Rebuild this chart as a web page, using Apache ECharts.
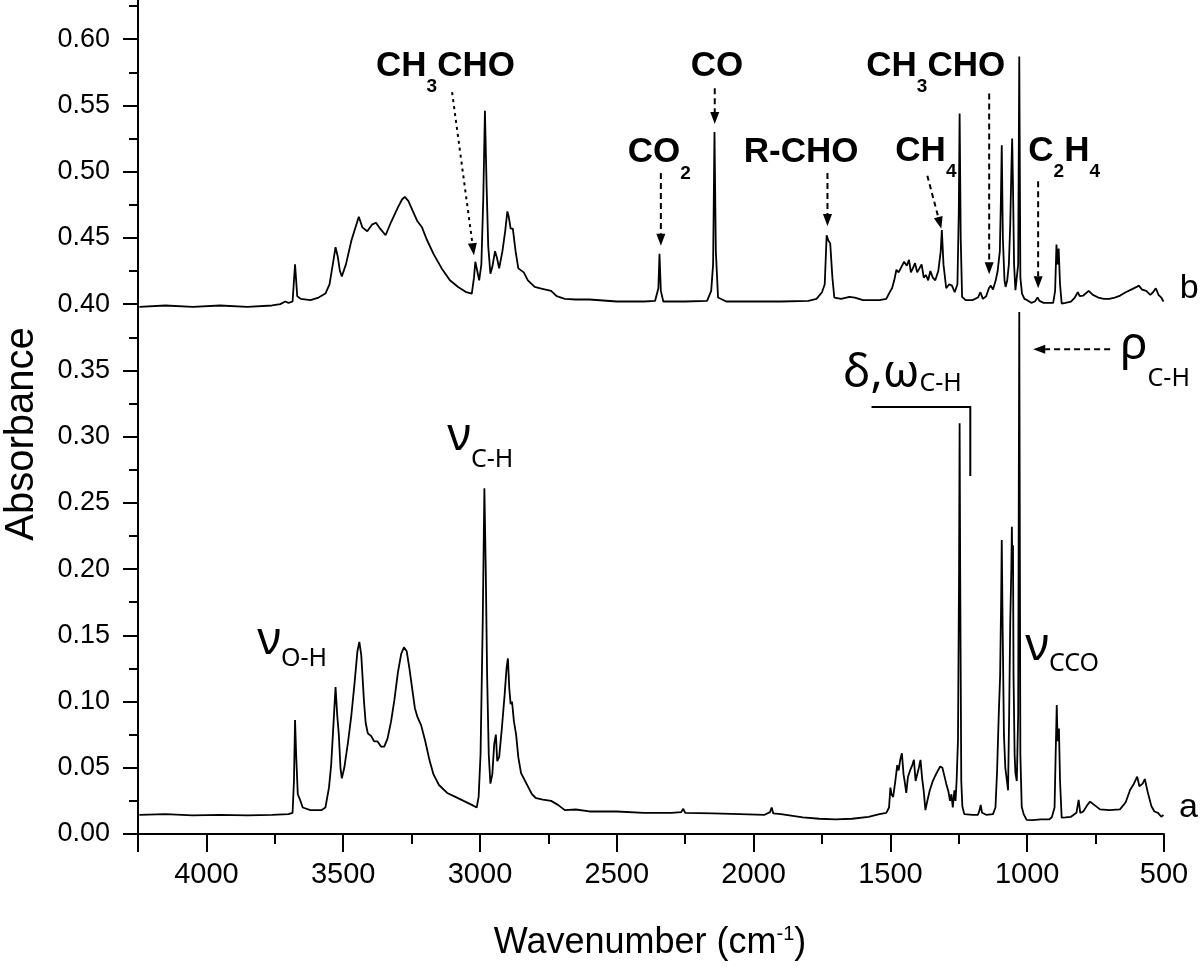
<!DOCTYPE html>
<html lang="en">
<head>
<meta charset="UTF-8">
<title>IR spectra</title>
<script src="https://cdn.jsdelivr.net/npm/echarts@6/dist/echarts.min.js"></script>
<style>
html, body { margin: 0; padding: 0; background: #fff; }
#main { width: 1200px; height: 967px; }
</style>
</head>
<body>
<div id="main"></div>
<script>
// trace b (upper, offset spectrum): wavenumber (cm-1) and absorbance
var wnB = [
  4245, 4150, 4050, 3950, 3850, 3760, 3730, 3712, 3700, 3685,
  3676, 3668, 3655, 3620, 3590, 3565, 3550, 3538, 3528, 3520,
  3512, 3505, 3490, 3470, 3455, 3443, 3430, 3412, 3395, 3380,
  3365, 3345, 3325, 3300, 3285, 3275, 3262, 3245, 3230, 3212,
  3195, 3170, 3140, 3110, 3080, 3050, 3030, 3022, 3017, 3010,
  3003, 2995, 2988, 2982, 2976, 2970, 2962, 2955, 2945, 2938,
  2930, 2918, 2908, 2900, 2895, 2888, 2880, 2870, 2860, 2840,
  2825, 2800, 2780, 2760, 2740, 2720, 2690, 2650, 2600, 2500,
  2400, 2360, 2348, 2344, 2339, 2330, 2250, 2170, 2155, 2148,
  2143, 2138, 2130, 2100, 2000, 1900, 1800, 1770, 1750, 1740,
  1733, 1727, 1720, 1712, 1705, 1680, 1650, 1630, 1600, 1540,
  1515, 1500, 1494, 1486, 1478, 1470, 1460, 1450, 1440, 1432,
  1425, 1418, 1410, 1402, 1395, 1386, 1378, 1370, 1362, 1354,
  1345, 1336, 1325, 1316, 1312, 1306, 1296, 1285, 1275, 1265,
  1255, 1250, 1247, 1243, 1238, 1225, 1200, 1180, 1171, 1162,
  1150, 1140, 1133, 1125, 1115, 1108, 1100, 1096, 1093, 1089,
  1083, 1079, 1073, 1067, 1062, 1058, 1055, 1052, 1048, 1043,
  1038, 1033, 1029, 1025, 1019, 1010, 1000, 985, 972, 962,
  955, 940, 920, 905, 898, 893, 889, 885, 880, 874,
  860, 840, 826, 815, 808, 795, 775, 760, 740, 720,
  700, 680, 660, 640, 620, 600, 592, 580, 565, 550,
  540, 530, 520, 510, 502
];
var absB = [
  0.398, 0.399, 0.398, 0.399, 0.398, 0.399, 0.400, 0.402, 0.401, 0.402,
  0.430, 0.406, 0.404, 0.403, 0.405, 0.408, 0.415, 0.430, 0.443, 0.436,
  0.425, 0.421, 0.430, 0.448, 0.458, 0.466, 0.458, 0.455, 0.460, 0.4615,
  0.457, 0.452, 0.462, 0.473, 0.479, 0.481, 0.478, 0.470, 0.463, 0.458,
  0.449, 0.438, 0.427, 0.418, 0.413, 0.409, 0.408, 0.420, 0.432, 0.425,
  0.418, 0.430, 0.480, 0.546, 0.490, 0.444, 0.423, 0.428, 0.440, 0.435,
  0.427, 0.440, 0.455, 0.470, 0.466, 0.457, 0.457, 0.440, 0.427, 0.424,
  0.418, 0.413, 0.412, 0.411, 0.410, 0.406, 0.404, 0.4035, 0.4035, 0.402,
  0.402, 0.4025, 0.412, 0.438, 0.410, 0.402, 0.402, 0.4025, 0.410, 0.430,
  0.530, 0.440, 0.405, 0.402, 0.402, 0.402, 0.4025, 0.404, 0.409, 0.415,
  0.452, 0.448, 0.446, 0.420, 0.405, 0.404, 0.4055, 0.405, 0.403, 0.403,
  0.404, 0.410, 0.412, 0.418, 0.426, 0.424, 0.428, 0.432, 0.429, 0.4335,
  0.424, 0.427, 0.431, 0.424, 0.4245, 0.430, 0.420, 0.422, 0.418, 0.425,
  0.420, 0.418, 0.425, 0.440, 0.456, 0.430, 0.412, 0.415, 0.414, 0.409,
  0.415, 0.470, 0.544, 0.450, 0.4055, 0.403, 0.403, 0.405, 0.409, 0.404,
  0.406, 0.412, 0.414, 0.411, 0.418, 0.425, 0.440, 0.480, 0.520, 0.450,
  0.418, 0.413, 0.418, 0.430, 0.460, 0.500, 0.525, 0.490, 0.430, 0.4105,
  0.410, 0.430, 0.587, 0.420, 0.408, 0.404, 0.403, 0.401, 0.402, 0.405,
  0.4025, 0.401, 0.401, 0.401, 0.410, 0.445, 0.430, 0.442, 0.415, 0.4005,
  0.401, 0.402, 0.405, 0.409, 0.406, 0.4065, 0.410, 0.407, 0.405, 0.404,
  0.404, 0.405, 0.4065, 0.409, 0.411, 0.413, 0.414, 0.411, 0.410, 0.407,
  0.409, 0.412, 0.407, 0.405, 0.402
];

// trace a (lower spectrum)
var wnA = [
  4245, 4150, 4050, 3950, 3850, 3760, 3700, 3685, 3680, 3676,
  3672, 3666, 3658, 3648, 3620, 3580, 3565, 3552, 3544, 3535,
  3528, 3522, 3516, 3510, 3505, 3496, 3482, 3470, 3458, 3448,
  3441, 3434, 3424, 3418, 3410, 3398, 3387, 3375, 3362, 3350,
  3338, 3325, 3313, 3300, 3288, 3278, 3268, 3258, 3248, 3238,
  3228, 3215, 3200, 3185, 3170, 3150, 3120, 3090, 3060, 3030,
  3012, 3005, 2998, 2990, 2984, 2979, 2974, 2968, 2962, 2955,
  2948, 2942, 2937, 2930, 2920, 2910, 2903, 2898, 2893, 2888,
  2883, 2876, 2868, 2860, 2850, 2835, 2825, 2810, 2795, 2770,
  2740, 2715, 2690, 2650, 2600, 2500, 2400, 2300, 2265, 2257,
  2250, 2150, 2050, 1960, 1940, 1934, 1928, 1900, 1820, 1760,
  1700, 1640, 1580, 1540, 1515, 1505, 1500, 1496, 1490, 1482,
  1475, 1470, 1464, 1458, 1452, 1448, 1442, 1436, 1428, 1420,
  1414, 1408, 1402, 1396, 1390, 1384, 1378, 1372, 1365, 1356,
  1345, 1336, 1326, 1318, 1310, 1304, 1296, 1288, 1282, 1277,
  1272, 1266, 1262, 1258, 1253, 1249, 1247, 1245, 1241, 1237,
  1230, 1200, 1180, 1174, 1170, 1165, 1150, 1125, 1116, 1110,
  1104, 1099, 1095, 1093, 1090, 1085, 1080, 1074, 1070, 1066,
  1062, 1058, 1056, 1054, 1052, 1050, 1046, 1043, 1038, 1033,
  1029, 1025, 1020, 1013, 1002, 980, 950, 920, 910, 900,
  896, 892, 889, 884, 880, 874, 860, 840, 820, 812,
  806, 795, 780, 770, 755, 734, 700, 661, 640, 624,
  610, 598, 590, 578, 570, 560, 546, 535, 522, 510,
  502
];
var absA = [
  0.0145, 0.0150, 0.0140, 0.0145, 0.0140, 0.0145, 0.0150, 0.0160, 0.040, 0.086,
  0.060, 0.030, 0.026, 0.020, 0.018, 0.018, 0.020, 0.035, 0.052, 0.085,
  0.111, 0.090, 0.075, 0.050, 0.042, 0.050, 0.070, 0.090, 0.115, 0.138,
  0.145, 0.135, 0.100, 0.084, 0.076, 0.074, 0.070, 0.070, 0.066, 0.066,
  0.072, 0.085, 0.101, 0.122, 0.136, 0.141, 0.138, 0.125, 0.110, 0.095,
  0.088, 0.082, 0.070, 0.056, 0.045, 0.037, 0.031, 0.028, 0.025, 0.022,
  0.020, 0.028, 0.060, 0.160, 0.261, 0.200, 0.120, 0.060, 0.038, 0.045,
  0.068, 0.075, 0.055, 0.058, 0.080, 0.105, 0.125, 0.1325, 0.110, 0.098,
  0.100, 0.085, 0.075, 0.058, 0.046, 0.040, 0.036, 0.030, 0.027, 0.026,
  0.025, 0.022, 0.018, 0.0185, 0.017, 0.017, 0.016, 0.016, 0.0165, 0.019,
  0.016, 0.0155, 0.015, 0.0145, 0.0165, 0.020, 0.0155, 0.015, 0.0125, 0.0115,
  0.011, 0.0115, 0.013, 0.015, 0.016, 0.020, 0.035, 0.030, 0.028, 0.040,
  0.052, 0.048, 0.056, 0.061, 0.045, 0.040, 0.031, 0.043, 0.048, 0.052,
  0.056, 0.040, 0.045, 0.050, 0.056, 0.042, 0.032, 0.018, 0.025, 0.033,
  0.040, 0.044, 0.048, 0.051, 0.050, 0.045, 0.038, 0.032, 0.025, 0.030,
  0.020, 0.033, 0.025, 0.040, 0.071, 0.200, 0.310, 0.200, 0.040, 0.021,
  0.015, 0.0145, 0.0145, 0.018, 0.022, 0.016, 0.0145, 0.015, 0.020, 0.048,
  0.090, 0.119, 0.180, 0.222, 0.160, 0.075, 0.050, 0.040, 0.033, 0.090,
  0.160, 0.200, 0.232, 0.200, 0.218, 0.120, 0.060, 0.046, 0.040, 0.090,
  0.394, 0.060, 0.0206, 0.015, 0.0106, 0.0105, 0.011, 0.011, 0.0126, 0.020,
  0.060, 0.0974, 0.070, 0.0797, 0.040, 0.0123, 0.0125, 0.013, 0.016, 0.0257,
  0.016, 0.017, 0.022, 0.0244, 0.022, 0.0186, 0.018, 0.0186, 0.024, 0.0332,
  0.038, 0.0433, 0.036, 0.038, 0.0415, 0.032, 0.021, 0.017, 0.016, 0.013,
  0.0143
];

// gas-phase product tags on trace b: text parts ('m' main, 's' subscript),
// text anchor (left, baseline) and dashed arrow, all in data units
var gasTags = [
  { parts: [['CH', 'm'], ['3', 's'], ['CHO', 'm']], at: [3380, 0.5706], from: [3102, 0.560], to: [3022, 0.437], dash: [3, 4] },
  { parts: [['CO', 'm']], at: [2230, 0.5706], from: [2142, 0.563], to: [2142, 0.536], dash: [6, 4] },
  { parts: [['CO', 'm'], ['2', 's']], at: [2460, 0.505], from: [2339, 0.499], to: [2339, 0.444], dash: [6, 4] },
  { parts: [['R-CHO', 'm']], at: [2036, 0.505], from: [1730, 0.499], to: [1730, 0.459], dash: [6, 4] },
  { parts: [['CH', 'm'], ['4', 's']], at: [1482, 0.5064], from: [1365, 0.497], to: [1314, 0.457], dash: [5, 4] },
  { parts: [['CH', 'm'], ['3', 's'], ['CHO', 'm']], at: [1588, 0.5706], from: [1139, 0.559], to: [1139, 0.4226], dash: [6, 4] },
  { parts: [['C', 'm'], ['2', 's'], ['H', 'm'], ['4', 's']], at: [996, 0.5064], from: [960, 0.4928], to: [960, 0.412], dash: [6, 4] }
];

// vibrational mode tags on trace a
var modeTags = [
  { parts: [['ν', 'm'], ['O-H', 's']], at: [3814, 0.1336], drop: 11 },
  { parts: [['ν', 'm'], ['C-H', 's']], at: [3120, 0.2875], drop: 15 },
  { parts: [['δ,ω', 'm'], ['C-H', 's']], at: [1672, 0.3351], drop: 3 },
  { parts: [['ρ', 'm'], ['C-H', 's']], at: [661, 0.3562], drop: 25 },
  { parts: [['ν', 'm'], ['CCO', 's']], at: [1007, 0.129], drop: 10 }
];
var bracketPts = [[1569, 0.3223], [1208, 0.3223], [1208, 0.2702]];
var rhoArrow = { from: [697, 0.366], to: [978, 0.366] };
var traceTags = [['a', [445, 0.0106]], ['b', [442, 0.403]]];

function zip(xs, ys) {
  return xs.map(function (x, i) { return [x, ys[i]]; });
}

var chart = echarts.init(document.getElementById('main'));

var option = {
  animation: false,
  backgroundColor: '#fff',
  grid: { left: 138, right: 36, top: -27, bottom: 133, containLabel: false, outerBoundsMode: 'none' },
  xAxis: [
    {
      type: 'value', min: 500, max: 4250, interval: 500, inverse: true, position: 'bottom',
      axisLine: { show: true, onZero: false, lineStyle: { color: '#000', width: 2 } },
      axisTick: { show: true, inside: false, length: 18, lineStyle: { color: '#000', width: 2 } },
      axisLabel: {
        color: '#000', fontSize: 29, fontFamily: 'Liberation Sans', margin: 26,
        formatter: function (v) { return (v % 500 === 0 && v <= 4000) ? String(v) : ''; }
      },
      splitLine: { show: false }
    },
    {
      // minor ticks every 250
      type: 'value', min: 500, max: 4250, interval: 250, inverse: true, position: 'bottom',
      axisLine: { show: false, onZero: false },
      axisTick: { show: true, inside: false, length: 10, lineStyle: { color: '#000', width: 2 } },
      axisLabel: { show: false },
      splitLine: { show: false }
    }
  ],
  yAxis: {
    type: 'value', min: 0, max: 0.65, interval: 0.05,
    axisLine: { show: true, onZero: false, lineStyle: { color: '#000', width: 2 } },
    axisTick: { show: true, inside: false, length: 15, lineStyle: { color: '#000', width: 2 } },
    minorTick: { show: true, splitNumber: 2, length: 9, lineStyle: { color: '#000', width: 2 } },
    axisLabel: {
      color: '#000', fontSize: 27, fontFamily: 'Liberation Sans', margin: 28,
      formatter: function (v) { return v > 0.61 ? '' : v.toFixed(2); }
    },
    splitLine: { show: false },
    minorSplitLine: { show: false }
  },
  series: [
    {
      name: 'a', type: 'line', xAxisIndex: 0, data: zip(wnA, absA),
      showSymbol: false, symbol: 'none', lineStyle: { color: '#000', width: 1.8 }
    },
    {
      name: 'b', type: 'line', xAxisIndex: 0, data: zip(wnB, absB),
      showSymbol: false, symbol: 'none', lineStyle: { color: '#000', width: 1.8 }
    }
  ]
};
chart.setOption(option);

// ---- annotations, placed through the axes' own scales ----
var ctx = document.createElement('canvas').getContext('2d');
function measure(t, font) { ctx.font = font; return ctx.measureText(t).width; }
function px(p) { return chart.convertToPixel({ xAxisIndex: 0, yAxisIndex: 0 }, p); }

function textEl(x, y, text, font) {
  return {
    type: 'text', x: x, y: y, silent: true,
    style: { text: text, font: font, fill: '#000', align: 'left', verticalAlign: 'middle', textAlign: 'left', textVerticalAlign: 'middle' }
  };
}

// lay out main / sub / sup pieces from a left-baseline point
function layoutParts(els, x, base, parts, st) {
  var cx = x;
  parts.forEach(function (p) {
    var small = p[1] !== 'm';
    var size = small ? st.sub : st.size;
    var font = st.weight + ' ' + size + 'px ' + st.family;
    var b = base + (p[1] === 's' ? st.drop : p[1] === 'p' ? -st.rise : 0);
    els.push(textEl(cx, b - 0.35 * size, p[0], font));
    cx += measure(p[0], font);
  });
  return cx - x;
}

function arrow(els, a, b, dash) {
  var dx = b[0] - a[0], dy = b[1] - a[1];
  var L = Math.sqrt(dx * dx + dy * dy), ux = dx / L, uy = dy / L;
  var hl = 12, hw = 4.5;
  var bx = b[0] - ux * hl, by = b[1] - uy * hl;
  els.push({ type: 'line', silent: true, shape: { x1: a[0], y1: a[1], x2: bx, y2: by },
    style: { stroke: '#000', lineWidth: 2, lineDash: dash } });
  els.push({ type: 'polygon', silent: true,
    shape: { points: [[b[0], b[1]], [bx - uy * hw, by + ux * hw], [bx + uy * hw, by - ux * hw]] },
    style: { fill: '#000' } });
}

var els = [];
var gasStyle = { family: '"Liberation Sans", Arial', weight: 'bold', size: 35, sub: 19, drop: 15 };
gasTags.forEach(function (g) {
  var p = px(g.at);
  layoutParts(els, p[0], p[1], g.parts, gasStyle);
  arrow(els, px(g.from), px(g.to), g.dash);
});

modeTags.forEach(function (m) {
  var p = px(m.at);
  layoutParts(els, p[0], p[1], m.parts, { family: '"Noto Sans"', weight: 'normal', size: 46, sub: 25, drop: m.drop });
});

var br = bracketPts.map(px);
els.push({ type: 'polyline', silent: true, shape: { points: br }, style: { stroke: '#000', lineWidth: 2, fill: null } });
arrow(els, px(rhoArrow.from), px(rhoArrow.to), [6, 4]);

traceTags.forEach(function (t) {
  var p = px(t[1]);
  els.push(textEl(p[0], p[1] - 0.35 * 34, t[0], '34px "Liberation Sans", Arial'));
});

// axis titles
els.push({
  type: 'text', x: 22, y: 434, rotation: Math.PI / 2, silent: true,
  style: { text: 'Absorbance', font: '40px "Liberation Sans", Arial', fill: '#000',
    align: 'center', verticalAlign: 'middle', textAlign: 'center', textVerticalAlign: 'middle' }
});
var xTitle = [['Wavenumber (cm', 'm'], ['-1', 'p'], [')', 'm']];
var tStyle = { family: '"Liberation Sans", Arial', weight: 'normal', size: 36, sub: 20, rise: 15 };
var tw = 0;
xTitle.forEach(function (p) {
  tw += measure(p[0], 'normal ' + (p[1] === 'm' ? tStyle.size : tStyle.sub) + 'px ' + tStyle.family);
});
layoutParts(els, 650 - tw / 2, 956, xTitle, tStyle);

chart.setOption({ graphic: { elements: els } });
</script>
</body>
</html>
